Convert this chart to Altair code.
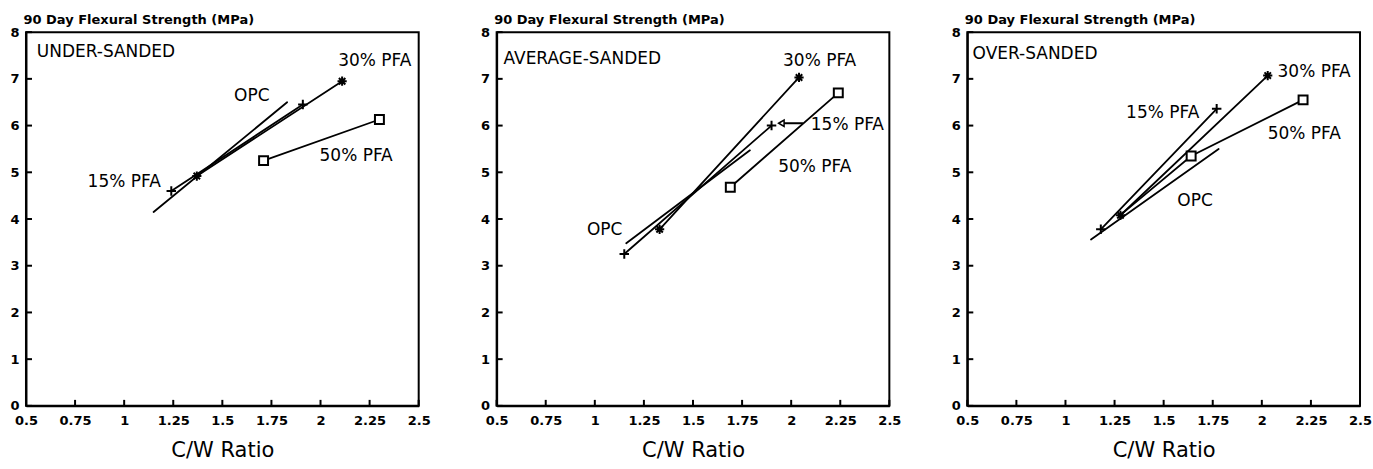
import altair as alt
import pandas as pd

# ---------------- data ----------------
panels = ["UNDER-SANDED", "AVERAGE-SANDED", "OVER-SANDED"]

# Panel 1: under-sanded
p1_opc_x = [1.15, 1.83];  p1_opc_y = [4.15, 6.50]
p1_15_x = [1.24, 1.91];   p1_15_y = [4.60, 6.45]
p1_30_x = [1.37, 2.11];   p1_30_y = [4.92, 6.95]
p1_50_x = [1.71, 2.30];   p1_50_y = [5.25, 6.13]

# Panel 2: average-sanded
p2_opc_x = [1.16, 1.79];  p2_opc_y = [3.48, 5.47]
p2_15_x = [1.15, 1.90];   p2_15_y = [3.25, 6.00]
p2_30_x = [1.33, 2.04];   p2_30_y = [3.78, 7.03]
p2_50_x = [1.69, 2.24];   p2_50_y = [4.68, 6.70]

# Panel 3: over-sanded
p3_opc_x = [1.13, 1.78];  p3_opc_y = [3.56, 5.50]
p3_15_x = [1.18, 1.77];   p3_15_y = [3.78, 6.36]
p3_30_x = [1.28, 2.03];   p3_30_y = [4.08, 7.07]
p3_50_x = [1.29, 1.64, 2.21]; p3_50_y = [4.12, 5.35, 6.55]
p3_50_marker = [False, True, True]

# Labels
p1_lab_text = ["UNDER-SANDED", "OPC", "15% PFA", "30% PFA", "50% PFA"]
p1_lab_x = [0.555, 1.65, 1.00, 2.09, 1.995]
p1_lab_y = [7.57, 6.64, 4.80, 7.39, 5.35]
p1_lab_align = ["left", "center", "center", "left", "left"]

p2_lab_text = ["AVERAGE-SANDED", "30% PFA", "15% PFA", "50% PFA", "OPC"]
p2_lab_x = [0.535, 2.145, 2.10, 2.12, 1.05]
p2_lab_y = [7.42, 7.39, 6.02, 5.12, 3.76]
p2_lab_align = ["left", "center", "left", "center", "center"]

p3_lab_text = ["OVER-SANDED", "30% PFA", "15% PFA", "50% PFA", "OPC"]
p3_lab_x = [0.527, 2.08, 1.495, 2.03, 1.66]
p3_lab_y = [7.53, 7.14, 6.26, 5.83, 4.38]
p3_lab_align = ["left", "left", "center", "left", "center"]

# Arrow in panel 2 (points at the 15% PFA marker)
arrow_x = [1.95, 2.06]
arrow_y = [6.05, 6.05]

x_ticks = [0.5, 0.75, 1, 1.25, 1.5, 1.75, 2, 2.25, 2.5]
y_ticks = [0, 1, 2, 3, 4, 5, 6, 7, 8]

# ---------------- tables ----------------
series_data = {
    0: {"OPC": (p1_opc_x, p1_opc_y, None), "15% PFA": (p1_15_x, p1_15_y, None),
        "30% PFA": (p1_30_x, p1_30_y, None), "50% PFA": (p1_50_x, p1_50_y, None)},
    1: {"OPC": (p2_opc_x, p2_opc_y, None), "15% PFA": (p2_15_x, p2_15_y, None),
        "30% PFA": (p2_30_x, p2_30_y, None), "50% PFA": (p2_50_x, p2_50_y, None)},
    2: {"OPC": (p3_opc_x, p3_opc_y, None), "15% PFA": (p3_15_x, p3_15_y, None),
        "30% PFA": (p3_30_x, p3_30_y, None),
        "50% PFA": (p3_50_x, p3_50_y, p3_50_marker)},
}
label_data = {
    0: (p1_lab_text, p1_lab_x, p1_lab_y, p1_lab_align),
    1: (p2_lab_text, p2_lab_x, p2_lab_y, p2_lab_align),
    2: (p3_lab_text, p3_lab_x, p3_lab_y, p3_lab_align),
}

PLUS = "M-1,0H1M0,-1V1"
STAR = "M-1,0H1M0,-1V1M-0.7,-0.7L0.7,0.7M-0.7,0.7L0.7,-0.7"

FONT = "DejaVu Sans"
W, H = 393, 374

xscale = alt.Scale(domain=[0.5, 2.5], nice=False, zero=False)
yscale = alt.Scale(domain=[0, 8], nice=False, zero=False)

x_axis = alt.Axis(values=x_ticks, labelExpr="datum.value + ''", ticks=False,
                  grid=False, domainColor="black", domainWidth=2,
                  labelFont=FONT, labelFontWeight="bold", labelFontSize=13,
                  labelColor="black", labelPadding=9, labelFlush=False,
                  labelOverlap=False, title="C/W Ratio", titleFont=FONT,
                  titleFontWeight="normal", titleFontSize=21,
                  titleColor="black", titlePadding=12)
y_axis = alt.Axis(values=y_ticks, format="d", ticks=False, grid=False,
                  domainColor="black", domainWidth=2,
                  labelFont=FONT, labelFontWeight="bold", labelFontSize=13,
                  labelColor="black", labelPadding=7,
                  title="90 Day Flexural Strength (MPa)", titleFont=FONT,
                  titleFontWeight="bold", titleFontSize=13, titleColor="black",
                  titleAngle=0, titleAlign="left", titleBaseline="alphabetic",
                  titleX=-3, titleY=-9)


def panel(i):
    rows = []
    for s, (xs, ys, mk) in series_data[i].items():
        for k, (xv, yv) in enumerate(zip(xs, ys)):
            show = (s != "OPC") and (mk is None or mk[k])
            rows.append({"series": s, "k": k, "x": xv, "y": yv, "show": show})
    df = pd.DataFrame(rows)
    t, lx, ly, la = label_data[i]
    ldf = pd.DataFrame({"text": t, "x": lx, "y": ly, "align": la})

    lines = alt.Chart(df).mark_line(color="black", strokeWidth=1.8,
                                    strokeCap="round").encode(
        x=alt.X("x:Q", scale=xscale, axis=x_axis),
        y=alt.Y("y:Q", scale=yscale, axis=y_axis),
        detail="series:N",
        order="k:Q",
    )
    pts = alt.Chart(df).transform_filter("datum.show").mark_point(
        filled=True, fill="white", stroke="black", strokeWidth=2, opacity=1
    ).encode(
        x=alt.X("x:Q", scale=xscale),
        y=alt.Y("y:Q", scale=yscale),
        shape=alt.Shape("series:N", legend=None,
                        scale=alt.Scale(domain=["15% PFA", "30% PFA", "50% PFA"],
                                        range=[PLUS, STAR, "square"])),
        size=alt.Size("series:N", legend=None,
                      scale=alt.Scale(domain=["15% PFA", "30% PFA", "50% PFA"],
                                      range=[90, 80, 38])),
    )
    layers = [lines, pts]
    for al in ["left", "center"]:
        layers.append(
            alt.Chart(ldf).transform_filter(f"datum.align == '{al}'").mark_text(
                align=al, baseline="middle", font=FONT, fontSize=17,
                color="black"
            ).encode(x=alt.X("x:Q", scale=xscale), y=alt.Y("y:Q", scale=yscale),
                     text="text:N")
        )
    xt = alt.Chart(pd.DataFrame({"v": x_ticks})).mark_rule(
        color="black", strokeWidth=2).encode(
        x=alt.X("v:Q", scale=xscale), y=alt.value(H), y2=alt.value(H - 6))
    yt = alt.Chart(pd.DataFrame({"v": y_ticks})).mark_rule(
        color="black", strokeWidth=2).encode(
        y=alt.Y("v:Q", scale=yscale), x=alt.value(0), x2=alt.value(6))
    layers += [xt, yt]
    if i == 1:
        adf = pd.DataFrame({"x": arrow_x, "y": arrow_y, "k": [0, 1]})
        layers.append(alt.Chart(adf).mark_line(color="black", strokeWidth=2).encode(
            x=alt.X("x:Q", scale=xscale), y=alt.Y("y:Q", scale=yscale), order="k:Q"))
        layers.append(alt.Chart(adf).transform_filter("datum.k == 0").mark_point(
            shape="triangle-left", filled=True, fill="white", stroke="black",
            strokeWidth=1.5, size=40, opacity=1).encode(
            x=alt.X("x:Q", scale=xscale), y=alt.Y("y:Q", scale=yscale)))
    return alt.layer(*layers).properties(width=W, height=H)


chart = alt.hconcat(panel(0), panel(1), panel(2), spacing=78, bounds="flush").properties(
    padding={"left": 8, "top": 12, "right": 0, "bottom": 2},
    background="white",
).configure_view(stroke="black", strokeWidth=2)

chart.save("out.html", embed_options={"renderer": "svg", "actions": False})
